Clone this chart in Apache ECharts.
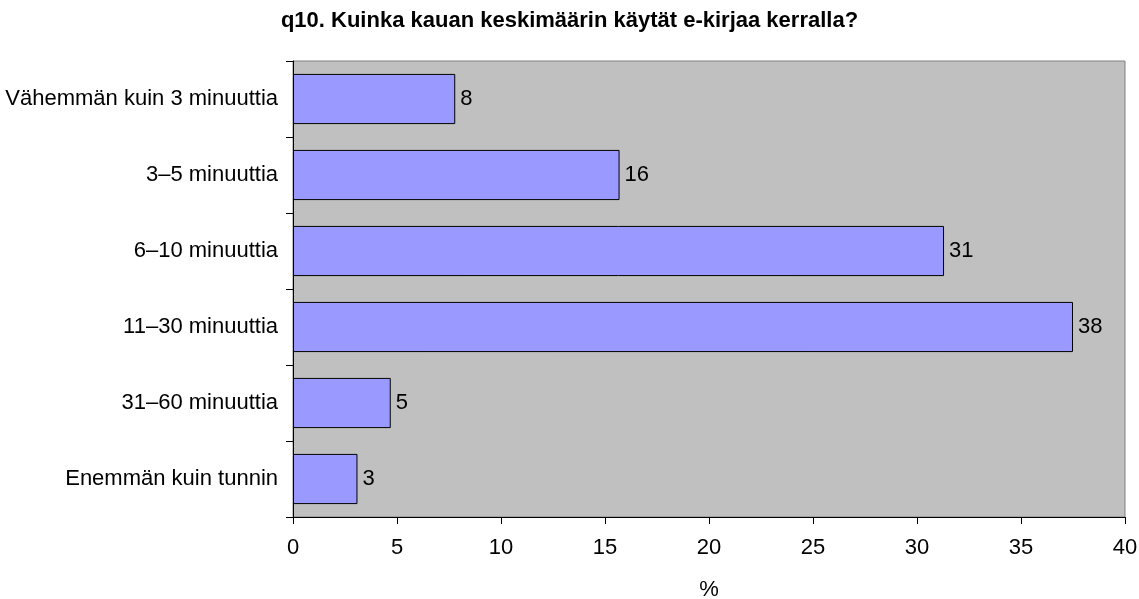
<!DOCTYPE html>
<html lang="fi">
<head>
    <meta charset="UTF-8"/>
    <title>q10</title>
    <script src="https://cdn.jsdelivr.net/npm/echarts@6/dist/echarts.min.js"></script>
    <style>
        html, body { margin: 0; padding: 0; background: #fff; }
    </style>
</head>
<body>
<div id="main" style="width: 1139px;height: 599px;"></div>
<script type="text/javascript">
    // kategoriat ylhäältä alas
    var categories = ['Vähemmän kuin 3 minuuttia', '3–5 minuuttia', '6–10 minuuttia',
        '11–30 minuuttia', '31–60 minuuttia', 'Enemmän kuin tunnin'];
    // prosenttiosuudet
    var percentValues = [7.8, 15.7, 31.3, 37.5, 4.7, 3.1];
    var xTicks = [0, 5, 10, 15, 20, 25, 30, 35, 40];

    var font = 'Liberation Sans, Arial, sans-serif';
    var fs = 22;
    var myChart = echarts.init(document.getElementById('main'));

    myChart.setOption({
        animation: false,
        title: {
            text: 'q10. Kuinka kauan keskimäärin käytät e-kirjaa kerralla?',
            left: 'center',
            top: 5,
            textStyle: { fontFamily: font, fontSize: fs, fontWeight: 'bold', color: '#000' }
        },
        grid: {
            left: 293, right: 14, top: 61, bottom: 82,
            outerBoundsMode: 'none',
            containLabel: false,
            show: true,
            backgroundColor: '#c0c0c0',
            borderColor: '#808080',
            borderWidth: 1
        },
        xAxis: {
            type: 'value',
            min: xTicks[0],
            max: xTicks[xTicks.length - 1],
            interval: 5,
            name: '%',
            nameLocation: 'middle',
            nameGap: 62,
            nameTextStyle: { fontFamily: font, fontSize: fs, color: '#000' },
            axisLine: { show: true, lineStyle: { color: '#000', width: 1 } },
            axisTick: { show: true, length: 7, lineStyle: { color: '#000' } },
            axisLabel: { fontFamily: font, fontSize: fs, color: '#000', margin: 20 },
            splitLine: { show: false }
        },
        yAxis: {
            type: 'category',
            data: categories,
            inverse: true,
            axisLine: { show: true, lineStyle: { color: '#000', width: 1 } },
            axisTick: { show: true, length: 7, lineStyle: { color: '#000' } },
            axisLabel: { fontFamily: font, fontSize: fs, color: '#000', margin: 15 }
        },
        series: [{
            type: 'bar',
            data: percentValues,
            barCategoryGap: '34%',
            itemStyle: { color: '#9999ff', borderColor: '#000', borderWidth: 1 },
            label: {
                show: true,
                position: 'right',
                distance: 5,
                fontFamily: font,
                fontSize: fs,
                color: '#000',
                formatter: function (p) { return Math.round(p.value); }
            }
        }]
    });
</script>
</body>
</html>
